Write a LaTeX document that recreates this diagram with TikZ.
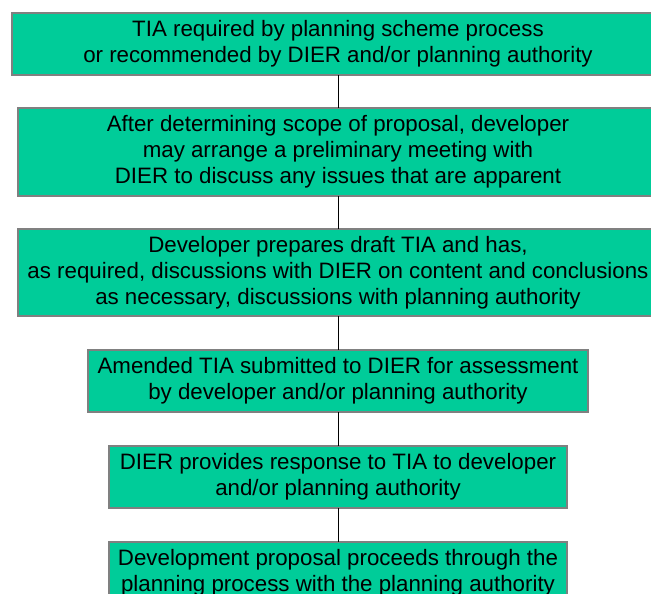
\documentclass[tikz,border=0pt]{standalone}
\usepackage{fontspec}
\setmainfont{Liberation Sans}
\definecolor{boxgreen}{RGB}{0,204,153}
\definecolor{boxedge}{RGB}{128,128,128}
\begin{document}
\begin{tikzpicture}[x=1pt,y=-1pt,
  stage/.style={draw=boxedge,line width=1.2pt,fill=boxgreen,align=center,
    inner sep=0pt,outer sep=0pt,
    font=\fontsize{22.3}{26}\selectfont},
  link/.style={draw=black,line width=1pt}]
\useasboundingbox (0,0) rectangle (651,594);
\clip (0,0) rectangle (651,594);
\node[stage,minimum width=652pt,minimum height=62pt] (b1) at (338,44)
  {TIA required by planning scheme process\\or recommended by DIER and/or planning authority};
\node[stage,minimum width=640pt,minimum height=88pt] (b2) at (338,152)
  {After determining scope of proposal, developer\\may arrange a preliminary meeting with\\DIER to discuss any issues that are apparent};
\node[stage,minimum width=640pt,minimum height=87pt] (b3) at (338,272.5)
  {Developer prepares draft TIA and has,\\as required, discussions with DIER on content and conclusions\\as necessary, discussions with planning authority};
\node[stage,minimum width=500pt,minimum height=62pt] (b4) at (338,381)
  {Amended TIA submitted to DIER for assessment\\by developer and/or planning authority};
\node[stage,minimum width=458pt,minimum height=62pt] (b5) at (338,477)
  {DIER provides response to TIA to developer\\and/or planning authority};
\node[stage,minimum width=458pt,minimum height=62pt] (b6) at (338,573)
  {Development proposal proceeds through the\\planning process with the planning authority};
\draw[link] (b1.south) -- (b2.north);
\draw[link] (b2.south) -- (b3.north);
\draw[link] (b3.south) -- (b4.north);
\draw[link] (b4.south) -- (b5.north);
\draw[link] (b5.south) -- (b6.north);
\end{tikzpicture}
\end{document}
